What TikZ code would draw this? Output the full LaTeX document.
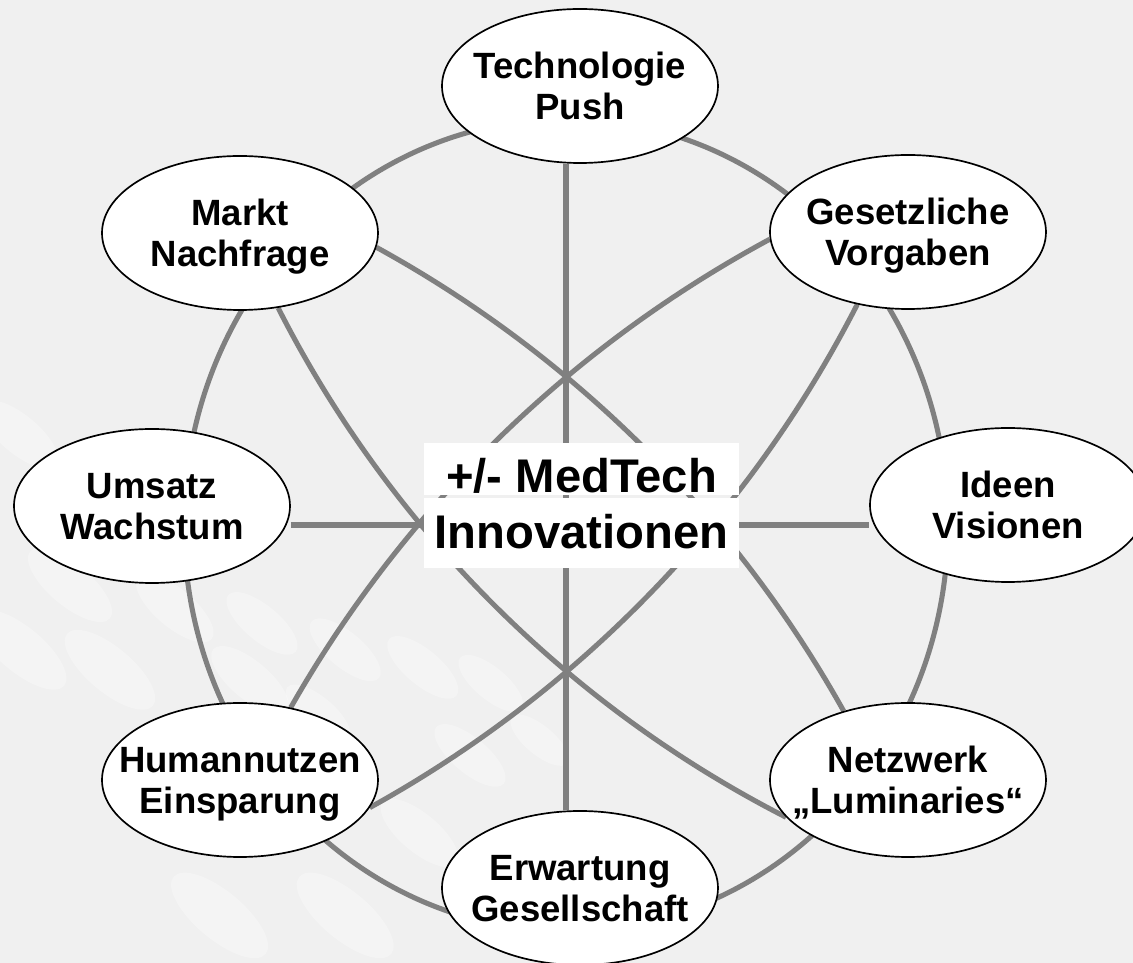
\documentclass[tikz,border=0pt]{standalone}
\usepackage{fontspec}
\setmainfont{Liberation Sans}
\usetikzlibrary{positioning,shapes.geometric,backgrounds}
\definecolor{bggray}{RGB}{240,240,240}
\definecolor{linkgray}{RGB}{128,128,128}

\begin{document}
\begin{tikzpicture}[
  topic/.style={ellipse,draw=black,line width=0.6pt,fill=white,
    minimum width=3.45cm,minimum height=1.925cm,inner xsep=-0.8cm,inner ysep=0pt,
    align=center,text depth=0pt,font=\fontsize{13}{14.6}\selectfont\bfseries},
  hubline/.style={fill=white,inner sep=0pt,minimum width=3.94cm,
    font=\fontsize{16.8}{19.6}\selectfont\bfseries},
  link/.style={draw=linkgray,line width=1.8pt},
  blob/.style={fill=white,opacity=0.3}
]
  \useasboundingbox (-7.075,-5.475) rectangle (7.0875,6.5625);
  \coordinate (hub) at (0,0);

  % ---------- the eight topics ----------
  \node[topic] (tech)   at ( 0.175, 5.4875) {Technologie\\Push};
  \node[topic] (markt)  at (-4.075, 3.65)   {Markt\\Nachfrage};
  \node[topic] (gesetz) at ( 4.275, 3.6625) {Gesetzliche\\Vorgaben};
  \node[topic] (umsatz) at (-5.175, 0.2375) {Umsatz\\Wachstum};
  \node[topic] (ideen)  at ( 5.525, 0.25)   {Ideen\\Visionen};
  \node[topic] (human)  at (-4.075,-3.1875) {Humannutzen\\Einsparung};
  \node[topic] (netz)   at ( 4.275,-3.1875) {Netzwerk\\„Luminaries“};
  \node[topic] (erwart) at ( 0.175,-4.5375) {Erwartung\\Gesellschaft};

  % ---------- centre label (two white boxes) ----------
  \node[hubline,anchor=south,text height=0.615cm,text depth=0.03cm]
    (mtop) at (0.194,0.37) {+/- MedTech};
  \node[hubline,anchor=north,text height=0.6375cm,text depth=0.2375cm]
    (mbot) at (0.194,0.35) {Innovationen};

  \begin{scope}[on background layer]
    % backdrop with faint swooshes
    \fill[bggray] (-7.075,-5.475) rectangle (7.0875,6.5625);
    \foreach \x/\y/\a/\b in {-6.81/-1.56/0.7/0.28, -6.2/-0.75/0.65/0.26,
        -5.7/-1.81/0.7/0.28, -3.8/-1.23/0.55/0.22, -4.89/-1.04/0.6/0.24,
        -2.76/-1.56/0.55/0.22, -1.79/-1.78/0.55/0.22, -0.94/-1.98/0.5/0.2,
        -0.33/-2.69/0.45/0.18, -1.2/-2.88/0.55/0.22, -1.83/-3.85/0.6/0.24,
        -2.76/-4.88/0.75/0.3, -4.33/-4.88/0.75/0.3, -3.1/-2.35/0.5/0.2,
        -6.83/1.13/0.6/0.24, -3.95/-1.94/0.6/0.24}
      \fill[blob,rotate around={-40:(\x,\y)}] (\x,\y) ellipse (\a cm and \b cm);

    % ring, spokes and lenses
    \draw[link] (hub) ellipse (4.775cm and 5.075cm);
    \draw[link] (tech.south -| hub) -- (erwart.north -| hub);
    \draw[link] (umsatz.east |- hub) -- (ideen.west |- hub);
    \draw[link] (markt.-6) to[bend left=16,looseness=0.87] (netz.133);
    \draw[link] (markt.-63) to[bend right=18,looseness=0.87] (netz.197);
    \draw[link] (gesetz.183) to[bend right=16,looseness=0.87] (human.55);
    \draw[link] (gesetz.235) to[bend left=17,looseness=0.87] (human.-12);
  \end{scope}
\end{tikzpicture}
\end{document}
